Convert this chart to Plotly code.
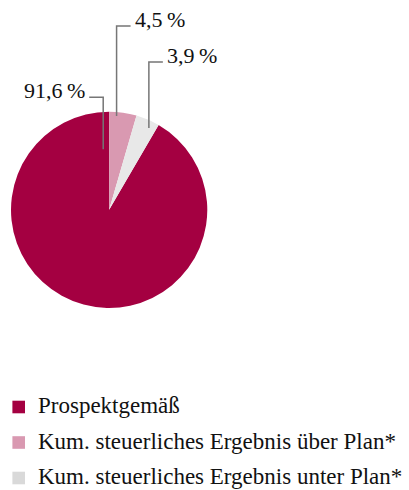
import math
import plotly.graph_objects as go

# Slice data (percent), in legend order
labels = ["Prospektgemäß",
          "Kum. steuerliches Ergebnis über Plan*",
          "Kum. steuerliches Ergebnis unter Plan*"]
values = [91.6, 4.5, 3.9]
value_texts = ["91,6\u2009%", "4,5\u2009%", "3,9\u2009%"]
colors = ["#a40041", "#d999b1", "#e8e8e8"]
legend_colors = ["#a40041", "#d999b1", "#d9d9d9"]

W, H = 409, 490
FONT = "Liberation Serif"
TEXT_COLOR = "#111111"

# Pie placement in pixels
pie_left, pie_right = 11.0, 207.3
pie_top, pie_bottom = 111.7, 308.0
cx = (pie_left + pie_right) / 2
cy = (pie_top + pie_bottom) / 2
r = min(pie_right - pie_left, pie_bottom - pie_top) / 2

# Drawing order around the pie (clockwise from 12 o'clock): über, unter, Prospektgemäß
draw_order = [1, 2, 0]
total = sum(values)
start_deg = {}
acc = 0.0
for i in draw_order:
    start_deg[i] = acc
    acc += values[i] / total * 360.0
# first trace slice (Prospektgemäß) starts right after the two small slices
rotation = start_deg[0]

# Leader line placement: position inside slice (fraction of its span), radial fraction,
# label baseline y (px) and horizontal elbow direction/length
leader = {
    0: dict(frac=0.983, rad=0.62, ly=97.3, dx=-14.0),
    1: dict(frac=0.28, rad=0.958, ly=26.0, dx=14.0),
    2: dict(frac=0.69, rad=0.927, ly=62.0, dx=14.0),
}

# Legend rows (px)
legend_row_y = [407.0, 442.5, 478.0]
legend_box_x = 18.7
legend_box_size = 12.6
legend_text_x = 36.0


def px(x):
    return x / W


def py(y):
    return 1 - y / H


fig = go.Figure(go.Pie(
    labels=labels,
    values=values,
    sort=False,
    direction="clockwise",
    rotation=rotation,
    marker=dict(colors=colors, line=dict(width=0)),
    textinfo="none",
    hoverinfo="label+percent",
    showlegend=False,
    domain=dict(x=[px(pie_left), px(pie_right)], y=[py(pie_bottom), py(pie_top)]),
))

shapes = []
annotations = []
for i, cfg in leader.items():
    span = values[i] / total * 360.0
    ang = math.radians(start_deg[i] + cfg["frac"] * span)
    ax = cx + cfg["rad"] * r * math.sin(ang)
    ay = cy - cfg["rad"] * r * math.cos(ang)
    ex = ax + cfg["dx"]
    path = f"M {px(ax)},{py(ay)} L {px(ax)},{py(cfg['ly'])} L {px(ex)},{py(cfg['ly'])}"
    shapes.append(dict(type="path", xref="paper", yref="paper", path=path,
                       line=dict(color="#767676", width=1.5)))
    gap = 2.0 if cfg["dx"] > 0 else -2.0
    annotations.append(dict(
        x=px(ex + gap), y=py(cfg["ly"] - 6.8), xref="paper", yref="paper",
        text=value_texts[i], showarrow=False,
        xanchor="left" if cfg["dx"] > 0 else "right", yanchor="middle",
        font=dict(family=FONT, size=22, color=TEXT_COLOR),
    ))

# Legend: colour squares with labels
half = legend_box_size / 2
for lab, col, yc in zip(labels, legend_colors, legend_row_y):
    shapes.append(dict(
        type="rect", xref="paper", yref="paper",
        x0=px(legend_box_x - half), x1=px(legend_box_x + half),
        y0=py(yc + half), y1=py(yc - half),
        fillcolor=col, line=dict(width=0),
    ))
    annotations.append(dict(
        x=px(legend_text_x), y=py(yc - 1.5), xref="paper", yref="paper",
        text=lab, showarrow=False, xanchor="left", yanchor="middle",
        font=dict(family=FONT, size=23, color=TEXT_COLOR),
    ))

fig.update_layout(
    width=W, height=H,
    margin=dict(l=0, r=0, t=0, b=0),
    paper_bgcolor="white",
    plot_bgcolor="white",
    shapes=shapes,
    annotations=annotations,
    showlegend=False,
)

fig.write_html("out.html")
